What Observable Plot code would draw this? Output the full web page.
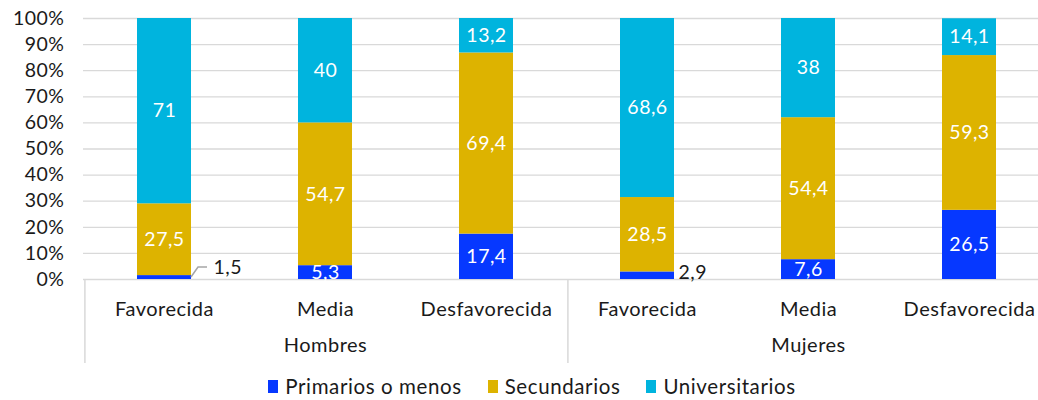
<!DOCTYPE html>
<html>
<head>
<meta charset="utf-8">
<script src="https://cdn.jsdelivr.net/npm/d3@7"></script>
<script src="https://cdn.jsdelivr.net/npm/@observablehq/plot@0.6"></script>
<style>
  html, body { margin: 0; padding: 0; background: #fff; }
  body { width: 1038px; height: 400px; overflow: hidden; font-family: Lato, sans-serif; }
  #legend { display: flex; justify-content: center; align-items: center; height: 28px; font-size: 20.5px; letter-spacing: 0.6px; color: #1a1a1a; padding-left: 26px; }
  .item { display: flex; align-items: center; margin: 0 13px; }
  .sw { width: 10px; height: 13px; margin-right: 7px; }
  svg text { letter-spacing: 0.5px; }
</style>
</head>
<body>
<div id="chart"></div>
<div id="legend"></div>
<script>
const groups = ["Hombres", "Mujeres"];
const categories = ["Favorecida", "Media", "Desfavorecida"];
const series = ["Primarios o menos", "Secundarios", "Universitarios"];
const colors = ["#0638FF", "#DDB300", "#00B4DE"];
const primarios = [1.5, 5.3, 17.4, 2.9, 7.6, 26.5];
const secundarios = [27.5, 54.7, 69.4, 28.5, 54.4, 59.3];
const universitarios = [71, 40, 13.2, 68.6, 38, 14.1];
const yTicks = [0, 10, 20, 30, 40, 50, 60, 70, 80, 90, 100];

const keys = [];
groups.forEach(g => categories.forEach(c => keys.push(g + "|" + c)));
const seriesValues = [primarios, secundarios, universitarios];
const rows = [];
keys.forEach((k, i) => series.forEach((s, j) => rows.push({key: k, series: s, value: seriesValues[j][i]})));
const fmt = v => String(v).replace(".", ",");
const smallRows = rows.filter(d => d.value < 4);

const padInner = 0.665;
const xRange = [82.4, 1049.6];
const step = (xRange[1] - xRange[0]) / keys.length;
const bw = step * (1 - padInner);

const chart = Plot.plot({
  width: 1038,
  height: 372,
  marginLeft: 83,
  marginRight: 0,
  marginTop: 18,
  marginBottom: 93,
  style: {fontFamily: "Lato, sans-serif", fontSize: "20px", color: "#1a1a1a", background: "white"},
  x: {domain: keys, range: xRange, paddingInner: padInner, paddingOuter: padInner / 2, label: null},
  y: {domain: [0, 100], label: null},
  color: {domain: series, range: colors},
  marks: [
    Plot.gridY(yTicks, {stroke: "#d9d9d9", strokeOpacity: 1, strokeWidth: 1.3}),
    Plot.axisY(yTicks, {tickSize: 0, tickPadding: 19, tickFormat: d => d + "%", fontSize: 19.5, label: null}),
    Plot.axisX({tickSize: 0, tickPadding: 22, tickFormat: k => k.split("|")[1], fontSize: 20, label: null}),
    Plot.barY(rows, {x: "key", y: "value", fill: "series", order: series}),
    Plot.text(rows, Plot.stackY({x: "key", y: "value", z: "series", order: series,
      text: d => d.value >= 4 ? fmt(d.value) : "", fill: "white", fontSize: 19.5})),
    Plot.text(smallRows.filter(d => d.value >= 2), {x: "key", y: d => d.value / 2, text: d => fmt(d.value),
      textAnchor: "start", dx: bw / 2 + 4, dy: -3, fill: "#1a1a1a", fontSize: 19.5}),
    Plot.text(smallRows.filter(d => d.value < 2), {x: "key", y: d => d.value / 2, text: d => fmt(d.value),
      textAnchor: "start", dx: bw / 2 + 22, dy: -10, fill: "#1a1a1a", fontSize: 19.5}),
    Plot.text(groups, {x: g => g + "|Media", frameAnchor: "bottom", dy: 72, text: d => d, fontSize: 20, fill: "#1a1a1a"})
  ]
});
document.getElementById("chart").appendChild(chart);

// separators and leader line using the chart's own scales
const sx = chart.scale("x");
const sy = chart.scale("y");
const svg = d3.select(chart);
const centerOf = k => sx.apply(k) + sx.bandwidth / 2;
const seps = [keys[0], keys[categories.length]].map(k => centerOf(k) - step / 2);
seps.push(centerOf(keys[keys.length - 1]) + step / 2);
svg.append("g").selectAll("line").data(seps).join("line")
  .attr("x1", d => d + 1.5).attr("x2", d => d + 1.5)
  .attr("y1", sy.apply(0)).attr("y2", sy.apply(0) + 84)
  .attr("stroke", "#d9d9d9").attr("stroke-width", 1.5);
smallRows.filter(d => d.value < 2).forEach(d => {
  const x0 = centerOf(d.key) + sx.bandwidth / 2;
  const y0 = sy.apply(d.value / 2);
  svg.append("path")
    .attr("d", `M${x0},${y0} L${x0 + 7},${y0 - 10} L${x0 + 16},${y0 - 10}`)
    .attr("fill", "none").attr("stroke", "#a6a6a6").attr("stroke-width", 1.5);
});

// legend
const leg = d3.select("#legend");
series.forEach((s, i) => {
  const it = leg.append("div").attr("class", "item");
  it.append("div").attr("class", "sw").style("background", colors[i]);
  it.append("span").text(s);
});
</script>
</body>
</html>
